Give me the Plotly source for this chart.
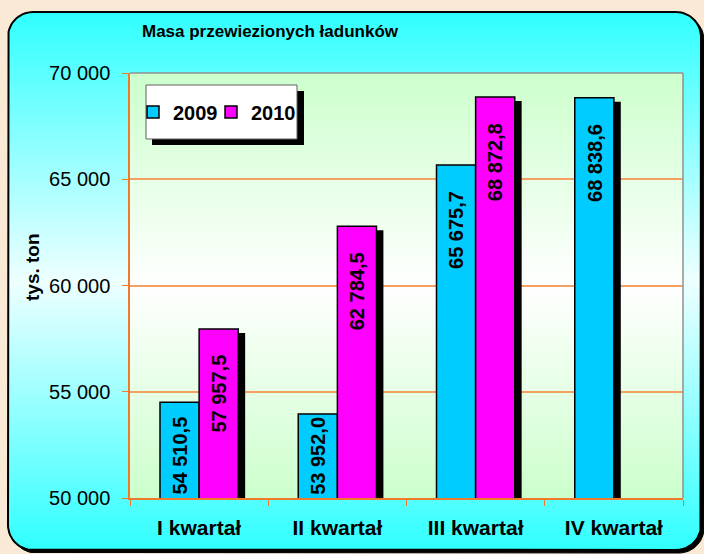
import numpy as np
import plotly.graph_objects as go

# ---------------- data ----------------
quarters = ["I kwartał", "II kwartał", "III kwartał", "IV kwartał"]
v2009 = [54510.5, 53952.0, 65675.7, 68838.6]
v2010 = [57957.5, 62784.5, 68872.8, None]
series_names = ["2009", "2010"]
title_text = "Masa przewiezionych ładunków"
y_title = "tys. ton"
y_min, y_max, y_step = 50000, 70000, 5000

# ---------------- style ----------------
W, H = 704, 554
PL, PR, PT, PB = 130, 683, 73, 498          # plot area in pixels
FONT = "Arial, Liberation Sans, sans-serif"
BLUE, MAG = "#00CCFF", "#FF00FF"
ORANGE = "#F07A2C"
GRID = "#F4A060"
BAR_W = 0.283
SHADOW_DX = 0.05
px_per_unit = (PB - PT) / (y_max - y_min)
SHADOW_DY = 4 / px_per_unit


def rounded_rect(x0, y0, x1, y1, r, n=16):
    xs, ys = [], []
    corners = [(x1 - r, y0 + r, -90, 0), (x1 - r, y1 - r, 0, 90),
               (x0 + r, y1 - r, 90, 180), (x0 + r, y0 + r, 180, 270)]
    for cx, cy, a0, a1 in corners:
        t = np.radians(np.linspace(a0, a1, n))
        xs += list(cx + r * np.cos(t))
        ys += list(cy + r * np.sin(t))
    xs.append(xs[0]); ys.append(ys[0])
    return xs, ys


fig = go.Figure()

# background (pixel coordinate axes x/y)
sx, sy = rounded_rect(8 + 3, 12 + 3, 701 + 3, 550 + 3, 25)
fig.add_trace(go.Scatter(x=sx, y=sy, fill="toself", fillcolor="black",
                         line=dict(color="black", width=1), mode="lines",
                         hoverinfo="skip", showlegend=False, xaxis="x", yaxis="y"))
rx, ry = rounded_rect(8, 12, 701, 550, 25)
fig.add_trace(go.Scatter(x=rx, y=ry, fill="toself",
                         fillgradient=dict(type="vertical",
                                           colorscale=[[0, "#30FFFF"], [0.5, "#EEFFFF"], [1, "#30FFFF"]]),
                         line=dict(color="black", width=2), mode="lines",
                         hoverinfo="skip", showlegend=False, xaxis="x", yaxis="y"))
fig.add_trace(go.Scatter(x=[PL, PR, PR, PL, PL], y=[PT, PT, PB, PB, PT], fill="toself",
                         fillgradient=dict(type="vertical",
                                           colorscale=[[0, "#CCFFCC"], [0.5, "#FFFFFF"], [1, "#CCFFCC"]]),
                         line=dict(color="rgba(0,0,0,0)", width=0), mode="lines",
                         hoverinfo="skip", showlegend=False, xaxis="x", yaxis="y"))

# shadows
sh2009 = [v - SHADOW_DY if v is not None else None for v in v2009]
sh2010 = [v - SHADOW_DY if v is not None else None for v in v2010]
fig.add_trace(go.Bar(x=quarters, y=sh2009, offset=-BAR_W + SHADOW_DX, width=BAR_W,
                     marker=dict(color="black", line=dict(width=0)), showlegend=False,
                     hoverinfo="skip", xaxis="x2", yaxis="y2"))
fig.add_trace(go.Bar(x=quarters, y=sh2010, offset=SHADOW_DX, width=BAR_W,
                     marker=dict(color="black", line=dict(width=0)), showlegend=False,
                     hoverinfo="skip", xaxis="x2", yaxis="y2"))
# bars
fig.add_trace(go.Bar(x=quarters, y=v2009, name=series_names[0], offset=-BAR_W, width=BAR_W,
                     marker=dict(color=BLUE, line=dict(color="black", width=1.5)),
                     legend="legend", xaxis="x2", yaxis="y2"))
fig.add_trace(go.Bar(x=quarters, y=v2010, name=series_names[1], offset=0, width=BAR_W,
                     marker=dict(color=MAG, line=dict(color="black", width=1.5)),
                     legend="legend2", xaxis="x2", yaxis="y2"))


def fmt(v):
    return f"{v:,.1f}".replace(",", " ").replace(".", ",")


annotations = []
for series, dx in ((v2009, -BAR_W / 2), (v2010, BAR_W / 2)):
    for i, v in enumerate(series):
        if v is None:
            continue
        h = (v - y_min) * px_per_unit
        if h >= 120:
            y, ya, ys = v, "top", -24
        else:
            y, ya, ys = y_min, "bottom", 1
        annotations.append(dict(x=i + dx, y=y, xref="x2", yref="y2", text=fmt(v),
                                textangle=-90, showarrow=False, yanchor=ya, yshift=ys,
                                xanchor="center",
                                font=dict(family=FONT, size=20, color="black", weight="bold")))

annotations.append(dict(x=32, y=267, xref="x", yref="y", text=y_title, textangle=-90,
                        showarrow=False, font=dict(family=FONT, size=19, color="black", weight="bold")))

shapes = [
    # plot border (top/right)
    dict(type="line", xref="x", yref="y", x0=PL, x1=PR, y0=PT, y1=PT, line=dict(color="#909090", width=1.5), layer="above"),
    dict(type="line", xref="x", yref="y", x0=PR, x1=PR, y0=PT, y1=PB, line=dict(color="#909090", width=1.5), layer="above"),
    # legend box + shadow
    dict(type="rect", xref="x", yref="y", x0=152, x1=304, y0=91, y1=145, fillcolor="black", line=dict(width=0), layer="above"),
    dict(type="rect", xref="x", yref="y", x0=146, x1=297, y0=85, y1=139, fillcolor="white",
         line=dict(color="#606060", width=1), layer="above"),
]

legend_style = dict(orientation="h", yanchor="middle", xanchor="left", y=1 - 112 / H,
                    bgcolor="rgba(0,0,0,0)", borderwidth=0,
                    font=dict(family=FONT, size=20, color="black", weight="bold"))

fig.update_layout(
    template="none",
    width=W, height=H,
    margin=dict(l=0, r=0, t=0, b=0, pad=0, autoexpand=False),
    paper_bgcolor="#FAEAD5",
    plot_bgcolor="rgba(0,0,0,0)",
    separators=", ",
    barmode="overlay",
    font=dict(family=FONT, color="black"),
    title=dict(text=title_text, x=270 / W, y=1 - 31 / H, xref="container", yref="container",
               xanchor="center", yanchor="middle", automargin=False,
               font=dict(family=FONT, size=17, color="black", weight="bold")),
    xaxis=dict(range=[0, W], domain=[0, 1], visible=False, fixedrange=True, automargin=False),
    yaxis=dict(range=[H, 0], domain=[0, 1], visible=False, fixedrange=True, automargin=False),
    xaxis2=dict(domain=[PL / W, PR / W], anchor="y2", type="category", automargin=False,
                showgrid=False, showline=True, linecolor=ORANGE, linewidth=1.5,
                ticks="outside", tickson="boundaries", ticklen=6, tickcolor=ORANGE, tickwidth=1,
                ticklabelstandoff=10,
                tickfont=dict(family=FONT, size=21, color="black", weight="bold")),
    yaxis2=dict(domain=[(H - PB) / H, (H - PT) / H], anchor="x2", range=[y_min, y_max],
                automargin=False,
                dtick=y_step, tick0=y_min, tickformat=",d",
                showgrid=True, gridcolor=GRID, gridwidth=1.5, zeroline=False,
                showline=True, linecolor=ORANGE, linewidth=1.5,
                ticks="outside", ticklen=6, tickcolor=ORANGE, tickwidth=1,
                ticklabelstandoff=8,
                tickfont=dict(family=FONT, size=20, color="black")),
    legend=dict(x=133 / W, **legend_style),
    legend2=dict(x=211 / W, **legend_style),
    annotations=annotations,
    shapes=shapes,
)

fig.write_html("out.html", config={"displayModeBar": False},
               post_script="document.body.style.margin='0';document.body.style.overflow='hidden';")
